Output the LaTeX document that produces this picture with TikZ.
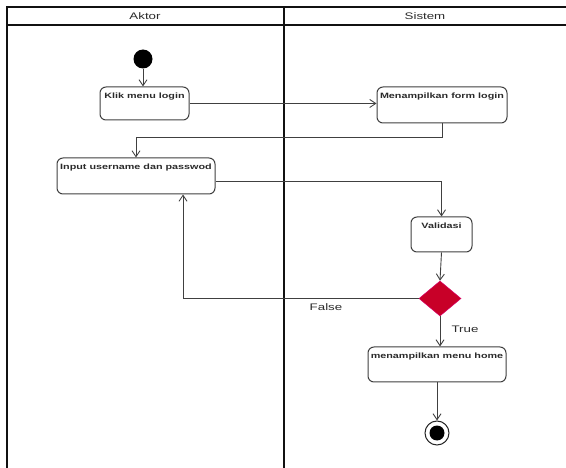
\documentclass[tikz,border=0pt]{standalone}
\usepackage{fontspec}
\setmainfont{Liberation Sans}
\newfontfamily\hdrfont[FakeStretch=1.4]{Liberation Sans}
\newfontfamily\boxfont[FakeStretch=1.4]{Liberation Sans}
\usetikzlibrary{arrows.meta,shapes.geometric,calc}
\definecolor{lanecol}{HTML}{111111}
\definecolor{linecol}{HTML}{404040}
\definecolor{decred}{RGB}{200,0,40}
\definecolor{txtcol}{HTML}{2A2A2A}
\begin{document}
\begin{tikzpicture}[x=1pt,y=-1pt,
  lane/.style={draw=lanecol, line width=2.1pt},
  hdr/.style={font=\hdrfont\fontsize{9.5}{11}\selectfont, text=txtcol, inner sep=0pt},
  lbl/.style={font=\hdrfont\fontsize{9.5}{11}\selectfont, text=txtcol, inner sep=0pt},
  act/.style={draw=linecol, line width=1pt, rounded corners=6pt, fill=white,
    inner xsep=2pt, inner ysep=3pt, text height=9pt,
    font=\boxfont\bfseries\fontsize{7.7}{9}\selectfont, text=txtcol},
  conn/.style={draw=linecol, line width=0.9pt},
  arr/.style={conn, -{Straight Barb[length=6pt,width=8pt]}}
]
\useasboundingbox (0,0) rectangle (566,468);
% swimlanes
\draw[lane] (566,7) -- (7,7) -- (7,468);
\draw[lane] (7,25) -- (566,25);
\draw[lane] (284,7) -- (284,468);
\node[hdr] (aktor) at (145,16) {Aktor};
\node[hdr] (sistem) at (425,16) {Sistem};
% nodes
\node[circle, fill=black, minimum size=19pt, inner sep=0pt] (start) at (143,59) {};
\node[act, minimum width=89pt, text depth=18pt] (klik) at (144.5,103.5) {Klik menu login};
\node[act, minimum width=130pt, text depth=21pt] (form) at (442,105) {Menampilkan form login};
\node[act, minimum width=158pt, text depth=21pt] (input) at (136,176) {Input username dan passwod};
\node[act, minimum width=61pt, text depth=20pt] (valid) at (441.5,234.5) {Validasi};
\node[diamond, fill=decred, draw=decred!75!magenta, line width=0.6pt, minimum width=42pt, minimum height=35pt, inner sep=0pt] (dia) at (440,298.5) {};
\node[act, minimum width=138pt, text depth=20pt] (home) at (437,364.5) {menampilkan menu home};
\node[circle, draw=black!85, line width=1pt, fill=white, minimum size=24pt, inner sep=0pt] (end) at (437,433) {};
\node[circle, fill=black, minimum size=15pt, inner sep=0pt] (endin) at (end) {};
% connectors
\draw[arr] (start.south) -- (start.south |- klik.north);
\draw[arr] (klik.east) -- (klik.east -| form.west);
\draw[arr] (form.south) -- ++(0,14) -| (input.north);
\draw[arr] ([yshift=-5pt]input.east) -| (valid.north);
\draw[arr] (valid.south) -- (dia.north);
\draw[arr] (dia.west) -| ([xshift=47pt]input.south);
\draw[arr] (dia.south) -- (dia.south |- home.north);
\draw[arr] (home.south) -- (end.north);
\node[lbl] (lfalse) at (326,307) {False};
\node[lbl] (ltrue) at (465,329) {True};
\end{tikzpicture}
\end{document}
